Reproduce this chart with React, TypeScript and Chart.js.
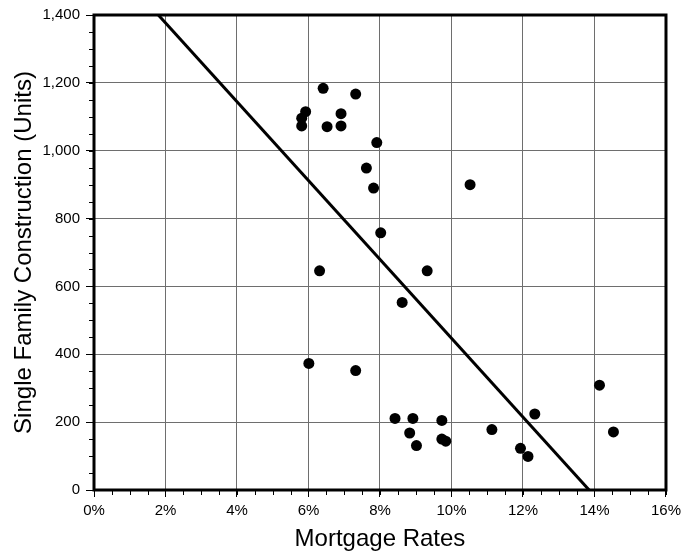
import React, { useEffect, useRef } from "react";
import { Chart, registerables } from "chart.js";

Chart.register(...registerables);

// Mortgage rate (%) of each observation
const rates = [
  6.41, 7.32, 5.92, 5.81, 5.81, 6.91, 6.52, 6.91, 7.91, 7.62, 7.82, 10.52, 8.02,
  6.31, 9.32, 8.62, 6.01, 7.32, 8.42, 8.92, 9.73, 8.83, 9.02, 9.73, 9.84, 11.13,
  14.14, 12.33, 11.93, 12.14, 14.53,
];
// Single family construction (units) of each observation
const units = [
  1184, 1167, 1115, 1096, 1073, 1109, 1071, 1073, 1024, 949, 890, 900, 758,
  646, 646, 553, 373, 352, 211, 211, 205, 168, 131, 150, 144, 178,
  309, 224, 123, 99, 171,
];
// Regression line end points
const trendRates = [1.8, 13.85];
const trendUnits = [1400, 0];

const xMin = 0;
const xMax = 16;
const xStep = 2;
const xMinorStep = 0.5;
const yMin = 0;
const yMax = 1400;
const yStep = 200;
const yMinorStep = 50;

const FONT = "'Liberation Sans', Arial, Helvetica, sans-serif";

const framePlugin = {
  id: "frame",
  afterDraw(chart: any) {
    const { ctx, chartArea, scales } = chart;
    const { left, right, top, bottom } = chartArea;
    const x = scales.x;
    const y = scales.y;
    ctx.save();
    ctx.strokeStyle = "#000";
    ctx.lineWidth = 1;
    ctx.beginPath();
    for (let v = xMin; v <= xMax + 1e-9; v += xMinorStep) {
      const px = Math.round(x.getPixelForValue(v)) + 0.5;
      ctx.moveTo(px, bottom);
      ctx.lineTo(px, bottom + 5);
    }
    for (let v = yMin; v <= yMax + 1e-9; v += yMinorStep) {
      const py = Math.round(y.getPixelForValue(v)) + 0.5;
      ctx.moveTo(left, py);
      ctx.lineTo(left - 5, py);
    }
    ctx.stroke();
    ctx.lineWidth = 3;
    ctx.strokeRect(left, top, right - left, bottom - top);
    ctx.restore();
  },
};

export default function App() {
  const ref = useRef<HTMLCanvasElement | null>(null);

  useEffect(() => {
    if (!ref.current) return;
    const pts = rates.map((r, i) => ({ x: r, y: units[i] }));
    const trend = trendRates.map((r, i) => ({ x: r, y: trendUnits[i] }));
    const chart = new Chart(ref.current, {
      type: "scatter",
      data: {
        datasets: [
          {
            label: "Trend",
            data: trend,
            showLine: true,
            borderColor: "#000",
            borderWidth: 3,
            pointRadius: 0,
            fill: false,
          },
          {
            label: "Observations",
            data: pts,
            backgroundColor: "#000",
            borderColor: "#000",
            pointRadius: 5.5,
            pointBorderWidth: 0,
          },
        ],
      },
      options: {
        responsive: false,
        animation: false,
        layout: { padding: { top: 14, right: 19, left: 0, bottom: 0 } },
        plugins: {
          legend: { display: false },
          tooltip: { enabled: false },
        },
        scales: {
          x: {
            type: "linear",
            min: xMin,
            max: xMax,
            ticks: {
              stepSize: xStep,
              color: "#000",
              font: { family: FONT, size: 15 },
              padding: 5,
              callback: (v: any) => `${v}%`,
              maxRotation: 0,
            },
            grid: {
              color: "#6e6e6e",
              lineWidth: 1,
              tickColor: "#000",
              tickLength: 7,
            },
            border: { display: false },
            title: {
              display: true,
              text: "Mortgage Rates",
              color: "#000",
              font: { family: FONT, size: 24, lineHeight: 1 },
              padding: { top: 0, bottom: 0 },
            },
            afterFit: (s: any) => {
              s.height = 61;
            },
          },
          y: {
            type: "linear",
            min: yMin,
            max: yMax,
            ticks: {
              stepSize: yStep,
              color: "#000",
              font: { family: FONT, size: 15 },
              padding: 6,
              callback: (v: any) => Number(v).toLocaleString("en-US"),
            },
            grid: {
              color: "#6e6e6e",
              lineWidth: 1,
              tickColor: "#000",
              tickLength: 8,
            },
            border: { display: false },
            title: {
              display: true,
              text: "Single Family Construction (Units)",
              color: "#000",
              font: { family: FONT, size: 24, lineHeight: 1 },
              padding: { top: 12.5, bottom: 0 },
            },
            afterFit: (s: any) => {
              s.width = 94;
            },
          },
        },
      },
      plugins: [framePlugin],
    });
    return () => chart.destroy();
  }, []);

  return (
    <div style={{ position: "absolute", left: 0, top: 0, width: 686, height: 551, background: "#fff" }}>
      <canvas ref={ref} width={686} height={551} style={{ display: "block", width: 686, height: 551 }} />
    </div>
  );
}
